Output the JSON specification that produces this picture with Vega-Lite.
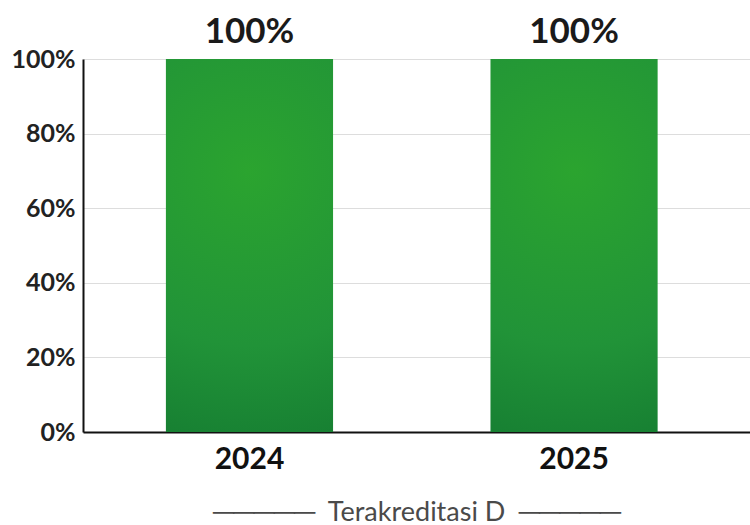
{
  "$schema": "https://vega.github.io/schema/vega-lite/v6.json",
  "width": 667,
  "height": 373,
  "autosize": "none",
  "padding": {"left": 83, "top": 59, "right": 0, "bottom": 93},
  "background": "white",
  "data": {"values": [
    {"year": "2024", "pct": 100, "label": "100%"},
    {"year": "2025", "pct": 100, "label": "100%"}
  ]},
  "config": {
    "view": {"stroke": null},
    "font": "Lato"
  },
  "encoding": {
    "x": {
      "field": "year", "type": "nominal",
      "scale": {"paddingInner": 0.485, "paddingOuter": 0.27, "align": 0.473},
      "axis": {
        "title": "─────\u00a0\u00a0Terakreditasi D\u00a0\u00a0─────",
        "titleFont": "Lato", "titleFontSize": 27, "titleFontWeight": "normal", "titleColor": "#4a4a4a",
        "titlePadding": 25,
        "labelAngle": 0, "labelFont": "Lato", "labelFontSize": 30, "labelFontWeight": "bold", "labelColor": "#111111",
        "labelPadding": 12,
        "ticks": false,
        "domainColor": "#111111", "domainWidth": 2
      }
    },
    "y": {
      "field": "pct", "type": "quantitative",
      "scale": {"domain": [0, 100]},
      "axis": {
        "title": null,
        "values": [0, 20, 40, 60, 80, 100],
        "labelExpr": "datum.value + '%'",
        "labelFont": "Lato", "labelFontSize": 25, "labelFontWeight": "bold", "labelColor": "#222222",
        "labelPadding": 8,
        "ticks": false,
        "grid": true, "gridColor": "#dddddd", "gridWidth": 1.2,
        "domainColor": "#111111", "domainWidth": 2
      }
    }
  },
  "layer": [
    {
      "mark": {
        "type": "bar",
        "color": {
          "gradient": "radial",
          "x1": 0.5, "y1": 0.3, "r1": 0,
          "x2": 0.5, "y2": 0.3, "r2": 0.85,
          "stops": [
            {"offset": 0, "color": "#2ba42f"},
            {"offset": 0.55, "color": "#219338"},
            {"offset": 1, "color": "#137830"}
          ]
        }
      }
    },
    {
      "mark": {"type": "text", "dy": -27, "fontSize": 35, "fontWeight": "bold", "font": "Lato", "color": "#1a1a1a", "clip": false},
      "encoding": {
        "text": {"field": "label", "type": "nominal"},
        "y": {"field": "pct", "type": "quantitative"}
      }
    }
  ]
}
